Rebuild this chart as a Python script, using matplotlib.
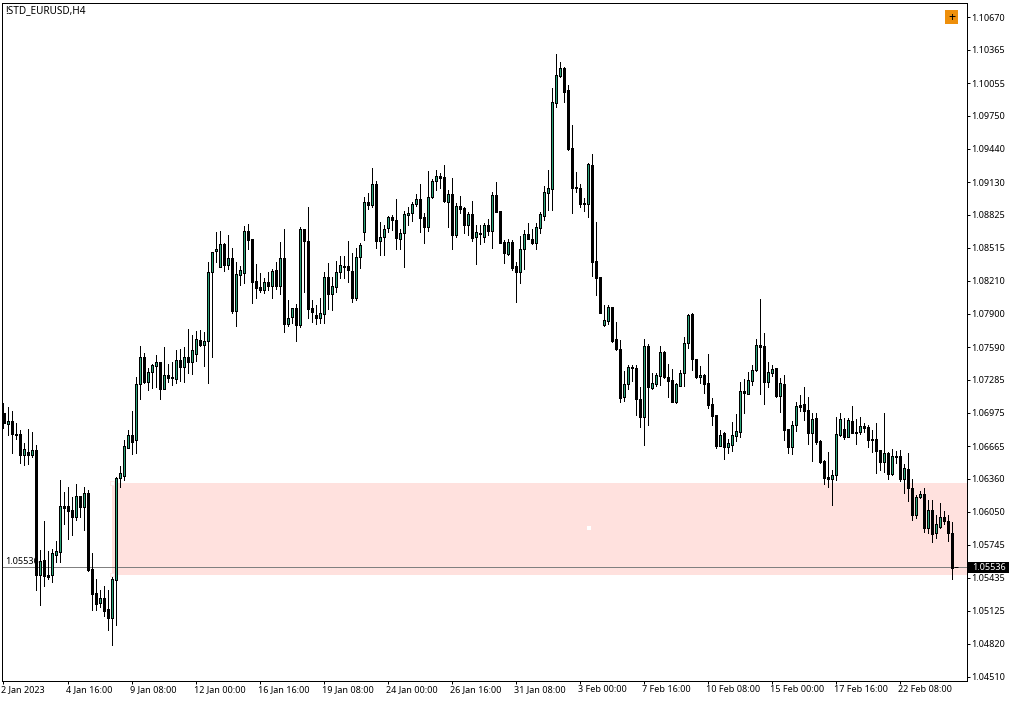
import matplotlib
matplotlib.use("Agg")
import matplotlib.pyplot as plt
from matplotlib.patches import Rectangle
from matplotlib.transforms import ScaledTranslation
import numpy as np

# Quotes in points (1e-5)
high = [107068,107031,106993,106881,106817,106694,106825,106797,106675,105696,105966,105687,105705,105780,106349,106237,106284,106190,106312,106199,
106284,106256,105668,105425,105322,105360,105322,105444,106377,106480,106722,106816,106993,107311,107600,107534,107394,107432,107516,107450,
107590,107432,107450,107562,107572,107590,107758,107702,107740,107749,107730,108384,108477,108664,108673,108561,108636,108514,108384,108346,
108720,108738,108598,108365,108281,108234,108290,108318,108384,108570,108692,108029,107954,107992,108710,108692,108897,108029,107982,108048,
108290,108374,108244,108393,108440,108440,108580,108468,108514,108561,108990,109028,109261,109140,108757,108729,108813,108822,108972,108692,
108860,108897,108944,109018,109112,108841,109233,109158,109242,109214,109289,109056,109168,108934,109000,108897,108850,108953,108729,108729,
108748,108785,109037,109130,108860,108589,108598,108589,108384,108626,108682,108748,108692,108748,108850,109093,109242,110008,110325,110250,
110204,110036,109662,109224,109112,108981,109308,109392,108757,108244,107982,107982,107964,107824,107656,107366,107422,107422,107422,107217,
107665,107618,107348,107348,107600,107553,107432,107385,107254,107376,107684,107898,107908,107478,107413,107338,107525,107114,106956,106816,
106797,106732,106890,106965,107264,107292,107357,107422,107665,108038,107721,107450,107422,107394,107301,107329,106825,106900,107077,107142,
107217,107124,106975,106975,106722,106536,106610,106442,106937,106975,106928,106928,107040,106918,106937,106881,106862,106816,106881,106629,
106975,106610,106638,106620,106629,106498,106601,106358,106209,106246,106274,106162,106162,106022,106134,106060,106022,105957,105536]
open_ = [106975,106872,106900,106779,106779,106582,106610,106582,106629,105462,105603,105462,105462,105649,105677,106106,106106,106069,106003,106199,
106097,106227,105518,105294,105201,105248,105145,105061,105416,106368,106386,106647,106769,106722,107245,107497,107264,107357,107413,107450,
107198,107329,107310,107292,107469,107404,107497,107450,107525,107656,107609,107646,108290,108486,108337,108552,108356,108421,107926,108262,
108281,108673,108598,108206,108150,108122,108197,108160,108309,108160,108421,107805,107870,107954,107796,108692,108580,107954,107889,107861,
107898,108244,108085,108150,108290,108346,108346,108300,108048,108430,108664,108944,108916,109112,108580,108617,108701,108804,108776,108598,
108654,108822,108841,108925,108972,108804,108710,108990,109140,109186,109177,108944,109018,108636,108906,108888,108729,108832,108617,108654,
108617,108729,108673,109009,108860,108570,108458,108570,108346,108290,108505,108645,108598,108561,108701,108813,109028,109065,109868,110120,
110194,109989,109448,109084,109074,108934,108925,109289,108393,108244,107796,107833,107964,107665,107572,107124,107245,107404,107394,107105,
106937,107600,107208,107245,107320,107544,107310,107282,107077,107226,107348,107628,107898,107478,107310,107329,107254,107058,106956,106666,
106788,106657,106676,106760,106797,107180,107152,107273,107376,107609,107600,107264,107348,107394,107133,107245,106825,106657,106862,107049,
107058,107002,106788,106928,106713,106526,106377,106358,106396,106769,106825,106750,106900,106797,106797,106853,106844,106732,106732,106629,
106517,106601,106405,106573,106573,106358,106452,106274,106022,106190,106218,105901,106069,105854,105910,106004,105966,105854,105536]
close = [106881,106900,106779,106769,106582,106638,106582,106629,105462,105593,105453,105444,105668,105687,106106,106087,106059,106003,106199,106097,
106227,105509,105285,105192,105248,105126,105061,105425,106368,106414,106666,106769,106703,107245,107497,107264,107357,107422,107450,107198,
107329,107301,107301,107469,107404,107497,107450,107562,107665,107609,107646,108290,108477,108505,108552,108356,108421,107926,108272,108309,
108673,108589,108197,108141,108122,108197,108160,108300,108160,108421,107805,107861,107954,107796,108692,108580,107945,107917,107861,107908,
108244,108085,108160,108290,108356,108337,108309,108048,108430,108542,108944,108916,109112,108580,108617,108692,108804,108776,108608,108654,
108832,108841,108925,108972,108794,108710,108990,109140,109186,109168,108953,109018,108636,108906,108878,108729,108832,108608,108664,108645,
108729,108673,109009,108850,108561,108468,108570,108328,108290,108505,108645,108598,108561,108710,108832,109037,109074,109877,110129,110194,
109970,109438,109074,109074,108925,108925,109298,108384,108234,107908,107842,107964,107646,107572,107114,107245,107404,107394,107105,106937,
107600,107217,107254,107329,107544,107310,107273,107077,107245,107348,107628,107889,107478,107310,107329,107245,107049,106946,106666,106769,
106657,106694,106769,106806,107180,107161,107282,107376,107609,107590,107264,107357,107385,107133,107254,106816,106657,106862,107040,107030,
106993,106788,106918,106704,106517,106368,106358,106396,106778,106918,106750,106909,106788,106788,106853,106834,106722,106722,106620,106517,
106601,106405,106573,106564,106358,106461,106274,106022,106190,106218,105901,106069,105845,105938,106004,105966,105854,105528,105536]
low = [106835,106769,106601,106731,106507,106489,106498,106563,105322,105182,105360,105425,105397,105584,105584,105938,105798,105836,105976,106003,
105882,105500,105136,105136,105164,105080,104949,104809,104996,106284,106349,106647,106592,106601,107105,107254,107189,107208,107217,107105,
107198,107264,107236,107254,107273,107264,107348,107338,107460,107600,107413,107254,107497,108384,108337,108300,108318,107908,107786,108169,
108188,108505,108001,108048,108104,108094,108122,108048,108132,108085,107730,107786,107814,107646,107777,108104,107861,107824,107805,107814,
107814,107945,107936,108104,108234,108234,108197,108010,108029,108328,108589,108878,108897,108514,108449,108449,108664,108682,108505,108505,
108337,108729,108766,108906,108664,108561,108673,108981,109056,109074,108944,108710,108505,108617,108841,108654,108636,108580,108365,108552,
108570,108636,108514,108850,108561,108374,108449,108309,108010,108188,108318,108598,108552,108505,108654,108776,108869,108869,109830,110110,
109877,109429,108841,109037,108897,108860,108804,108253,108076,107908,107786,107805,107637,107562,107077,107086,107198,107273,106956,106844,
106676,106862,107198,107226,107236,107301,107124,107077,107068,107226,107226,107581,107376,107301,107254,107161,107021,106862,106647,106666,
106545,106601,106620,106713,106750,106975,107152,107236,107366,107152,107058,107217,107320,107124,106984,106722,106601,106592,106806,106993,
106909,106685,106526,106685,106508,106312,106284,106116,106349,106760,106732,106750,106788,106685,106778,106797,106657,106610,106414,106442,
106424,106358,106396,106508,106340,106228,106153,105976,105994,106181,105864,105854,105770,105808,105901,105938,105780,105425,105536]

price_ticks = [1.10670,1.10365,1.10055,1.09750,1.09440,1.09130,1.08825,1.08515,1.08210,1.07900,1.07590,
               1.07285,1.06975,1.06665,1.06360,1.06050,1.05745,1.05435,1.05125,1.04820,1.04510]
time_tick_labels = ["2 Jan 2023","4 Jan 16:00","9 Jan 08:00","12 Jan 00:00","16 Jan 16:00","19 Jan 08:00",
                    "24 Jan 00:00","26 Jan 16:00","31 Jan 08:00","3 Feb 00:00","7 Feb 16:00","10 Feb 08:00",
                    "15 Feb 00:00","17 Feb 16:00","22 Feb 08:00"]
bars_per_time_tick = 16
last_price = 1.05536
zone_top, zone_bottom = 1.06320, 1.05465
zone_start_bar = 27

plt.rcParams['font.family'] = ['Noto Sans', 'DejaVu Sans']
W, H = 1012, 701
fig = plt.figure(figsize=(W/100, H/100), dpi=100)
L, R, T, B = 2.5, 966.5, 2.5, 680.5
ax = fig.add_axes([L/W, 1-B/H, (R-L)/W, (B-T)/H])
px = 0.72
FS = 6.5

o, c, h, l = [np.array(a)/1e5 for a in (open_, close, high, low)]
x = np.arange(len(o))
ax.set_xlim(-0.25, 240.75)
ax.set_ylim(1.04475, 1.10808)

# Supply/demand zone with its two faint corner handles
ax.add_patch(Rectangle((zone_start_bar, zone_bottom), 241-zone_start_bar, zone_top-zone_bottom,
                       fc='#FFE1DE', ec='none', zorder=1))
for corner in (zone_top, zone_bottom):
    ax.add_patch(Rectangle((zone_start_bar-0.4, corner-0.00015), 0.9, 0.0003,
                           fc='white', ec='#FFE9E7', lw=px, zorder=1.5))
ax.scatter([146.4], [1.05895], s=5, c='white', marker='s', linewidths=0, zorder=2)
ax.axhline(last_price, color='#808080', lw=px, zorder=2)
ax.text(0.35, last_price+0.00012, "1.05536", fontsize=FS, va='bottom', ha='left', color='black', zorder=2)

# Candles
up = c >= o
ax.vlines(x, l, h, colors='black', lw=px, antialiased=False, zorder=3)
ax.bar(x[up], (c-o)[up], bottom=o[up], width=0.5, color='#2AA57A', edgecolor='black', lw=px,
       antialiased=False, zorder=4)
ax.bar(x[~up], (c-o)[~up], bottom=o[~up], width=0.5, color='black', edgecolor='black', lw=px,
       antialiased=False, zorder=4)
ax.hlines(o[-1], x[-1]-0.5, x[-1]+0.5, colors='black', lw=px, zorder=4)

for s in ax.spines.values():
    s.set_linewidth(px); s.set_color('black')

ax.yaxis.tick_right()
ax.set_yticks(price_ticks, [f"{v:.5f}" for v in price_ticks])
ax.tick_params(axis='y', length=2.2, width=px, pad=1.4, labelsize=FS, colors='black')
ax.set_xticks(x[::bars_per_time_tick][:len(time_tick_labels)], time_tick_labels, ha='left')
ax.tick_params(axis='x', length=2.4, width=px, pad=1.2, labelsize=FS, colors='black')
shift = ScaledTranslation(-2/100, 0, fig.dpi_scale_trans)
for lab in ax.get_xticklabels():
    lab.set_transform(lab.get_transform() + shift)

# Title, trade button and last-price tag
fig.text(5/W, 1-10.5/H, "!STD_EURUSD,H4", fontsize=7.2, va='center', ha='left')
fig.add_artist(Rectangle((945/W, 1-24/H), 13/W, 14/H, fc='#EE8F0B', ec='none', transform=fig.transFigure))
fig.text(951.5/W, 1-17/H, "+", fontsize=9, va='center', ha='center', color='black')
fig.add_artist(Rectangle((968/W, 1-573/H), 41/W, 11/H, fc='black', ec='none', transform=fig.transFigure))
fig.text(972/W, 1-567.5/H, f"{last_price:.5f}", fontsize=FS, va='center', ha='left', color='white')

fig.savefig("out.png", dpi=100)
